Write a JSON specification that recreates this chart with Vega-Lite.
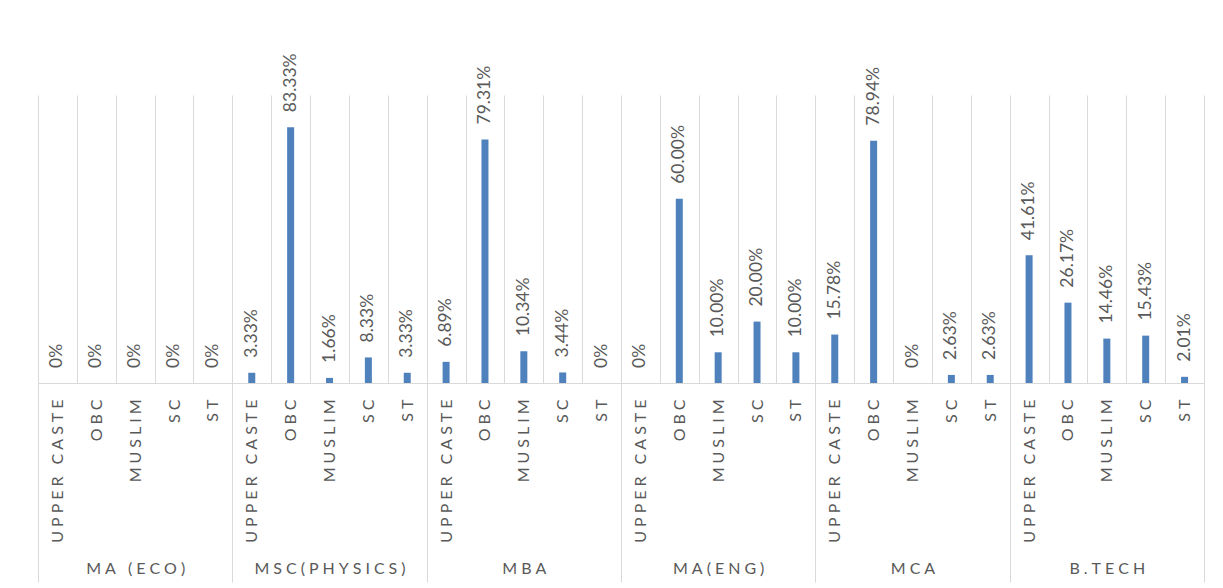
{
  "$schema": "https://vega.github.io/schema/vega-lite/v6.json",
  "width": 1166,
  "height": 288,
  "autosize": {"type": "none"},
  "padding": {"left": 38, "top": 95, "right": 19, "bottom": 205},
  "background": "white",
  "config": {"view": {"stroke": null}, "font": "Lato"},
  "data": {
    "values": [
      {"program": "MA (ECO)", "category": "UPPER CASTE", "key": "MA (ECO)|UPPER CASTE", "pct": 0, "label": "0%"},
      {"program": "MA (ECO)", "category": "OBC", "key": "MA (ECO)|OBC", "pct": 0, "label": "0%"},
      {"program": "MA (ECO)", "category": "MUSLIM", "key": "MA (ECO)|MUSLIM", "pct": 0, "label": "0%"},
      {"program": "MA (ECO)", "category": "SC", "key": "MA (ECO)|SC", "pct": 0, "label": "0%"},
      {"program": "MA (ECO)", "category": "ST", "key": "MA (ECO)|ST", "pct": 0, "label": "0%"},
      {"program": "MSC(PHYSICS)", "category": "UPPER CASTE", "key": "MSC(PHYSICS)|UPPER CASTE", "pct": 3.33, "label": "3.33%"},
      {"program": "MSC(PHYSICS)", "category": "OBC", "key": "MSC(PHYSICS)|OBC", "pct": 83.33, "label": "83.33%"},
      {"program": "MSC(PHYSICS)", "category": "MUSLIM", "key": "MSC(PHYSICS)|MUSLIM", "pct": 1.66, "label": "1.66%"},
      {"program": "MSC(PHYSICS)", "category": "SC", "key": "MSC(PHYSICS)|SC", "pct": 8.33, "label": "8.33%"},
      {"program": "MSC(PHYSICS)", "category": "ST", "key": "MSC(PHYSICS)|ST", "pct": 3.33, "label": "3.33%"},
      {"program": "MBA", "category": "UPPER CASTE", "key": "MBA|UPPER CASTE", "pct": 6.89, "label": "6.89%"},
      {"program": "MBA", "category": "OBC", "key": "MBA|OBC", "pct": 79.31, "label": "79.31%"},
      {"program": "MBA", "category": "MUSLIM", "key": "MBA|MUSLIM", "pct": 10.34, "label": "10.34%"},
      {"program": "MBA", "category": "SC", "key": "MBA|SC", "pct": 3.44, "label": "3.44%"},
      {"program": "MBA", "category": "ST", "key": "MBA|ST", "pct": 0, "label": "0%"},
      {"program": "MA(ENG)", "category": "UPPER CASTE", "key": "MA(ENG)|UPPER CASTE", "pct": 0, "label": "0%"},
      {"program": "MA(ENG)", "category": "OBC", "key": "MA(ENG)|OBC", "pct": 60.0, "label": "60.00%"},
      {"program": "MA(ENG)", "category": "MUSLIM", "key": "MA(ENG)|MUSLIM", "pct": 10.0, "label": "10.00%"},
      {"program": "MA(ENG)", "category": "SC", "key": "MA(ENG)|SC", "pct": 20.0, "label": "20.00%"},
      {"program": "MA(ENG)", "category": "ST", "key": "MA(ENG)|ST", "pct": 10.0, "label": "10.00%"},
      {"program": "MCA", "category": "UPPER CASTE", "key": "MCA|UPPER CASTE", "pct": 15.78, "label": "15.78%"},
      {"program": "MCA", "category": "OBC", "key": "MCA|OBC", "pct": 78.94, "label": "78.94%"},
      {"program": "MCA", "category": "MUSLIM", "key": "MCA|MUSLIM", "pct": 0, "label": "0%"},
      {"program": "MCA", "category": "SC", "key": "MCA|SC", "pct": 2.63, "label": "2.63%"},
      {"program": "MCA", "category": "ST", "key": "MCA|ST", "pct": 2.63, "label": "2.63%"},
      {"program": "B.TECH", "category": "UPPER CASTE", "key": "B.TECH|UPPER CASTE", "pct": 41.61, "label": "41.61%"},
      {"program": "B.TECH", "category": "OBC", "key": "B.TECH|OBC", "pct": 26.17, "label": "26.17%"},
      {"program": "B.TECH", "category": "MUSLIM", "key": "B.TECH|MUSLIM", "pct": 14.46, "label": "14.46%"},
      {"program": "B.TECH", "category": "SC", "key": "B.TECH|SC", "pct": 15.43, "label": "15.43%"},
      {"program": "B.TECH", "category": "ST", "key": "B.TECH|ST", "pct": 2.01, "label": "2.01%"}
    ]
  },
  "layer": [
    {
      "mark": {"type": "bar", "color": "#4f81bd", "width": 7},
      "encoding": {
        "x": {
          "field": "key",
          "type": "nominal",
          "sort": null,
          "scale": {"paddingInner": 0, "paddingOuter": 0},
          "axis": {
            "orient": "bottom",
            "title": null,
            "labelAngle": 270,
            "labelAlign": "right",
            "labelBaseline": "middle",
            "labelPadding": 16,
            "labelFontSize": 16,
            "labelColor": "#595959",
            "labelOverlap": false,
            "labelExpr": "isString(datum.value) && indexof(datum.value, '|') >= 0 ? join(split(split(datum.value, '|')[1], ''), '\u2009\u2009') : ''",
            "ticks": false,
            "tickBand": "extent",
            "domainColor": "#d9d9d9",
            "grid": true,
            "gridColor": "#d9d9d9"
          }
        },
        "y": {"field": "pct", "type": "quantitative", "scale": {"domain": [0, 93.8], "nice": false}, "axis": null}
      }
    },
    {
      "mark": {"type": "text", "angle": 270, "align": "left", "baseline": "middle", "dx": 15, "fontSize": 17.5, "color": "#595959"},
      "encoding": {
        "x": {
          "field": "program",
          "type": "nominal",
          "sort": ["MA (ECO)", "MSC(PHYSICS)", "MBA", "MA(ENG)", "MCA", "B.TECH"],
          "scale": {"paddingInner": 0, "paddingOuter": 0},
          "axis": {
            "orient": "bottom",
            "title": null,
            "labelAngle": 0,
            "labelAlign": "center",
            "labelBaseline": "middle",
            "labelPadding": -14,
            "labelFontSize": 16,
            "labelColor": "#595959",
            "labelOverlap": false,
            "labelExpr": "isString(datum.value) ? join(split(datum.value, ''), '\u2009\u2009') : ''",
            "domain": false,
            "ticks": true,
            "tickBand": "extent",
            "tickSize": 199,
            "tickColor": "#d9d9d9",
            "grid": false
          }
        },
        "xOffset": {"field": "category", "type": "nominal", "sort": ["UPPER CASTE", "OBC", "MUSLIM", "SC", "ST"]},
        "y": {"field": "pct", "type": "quantitative"},
        "text": {"field": "label"}
      }
    }
  ],
  "resolve": {"scale": {"x": "independent"}, "axis": {"x": "independent"}}
}
